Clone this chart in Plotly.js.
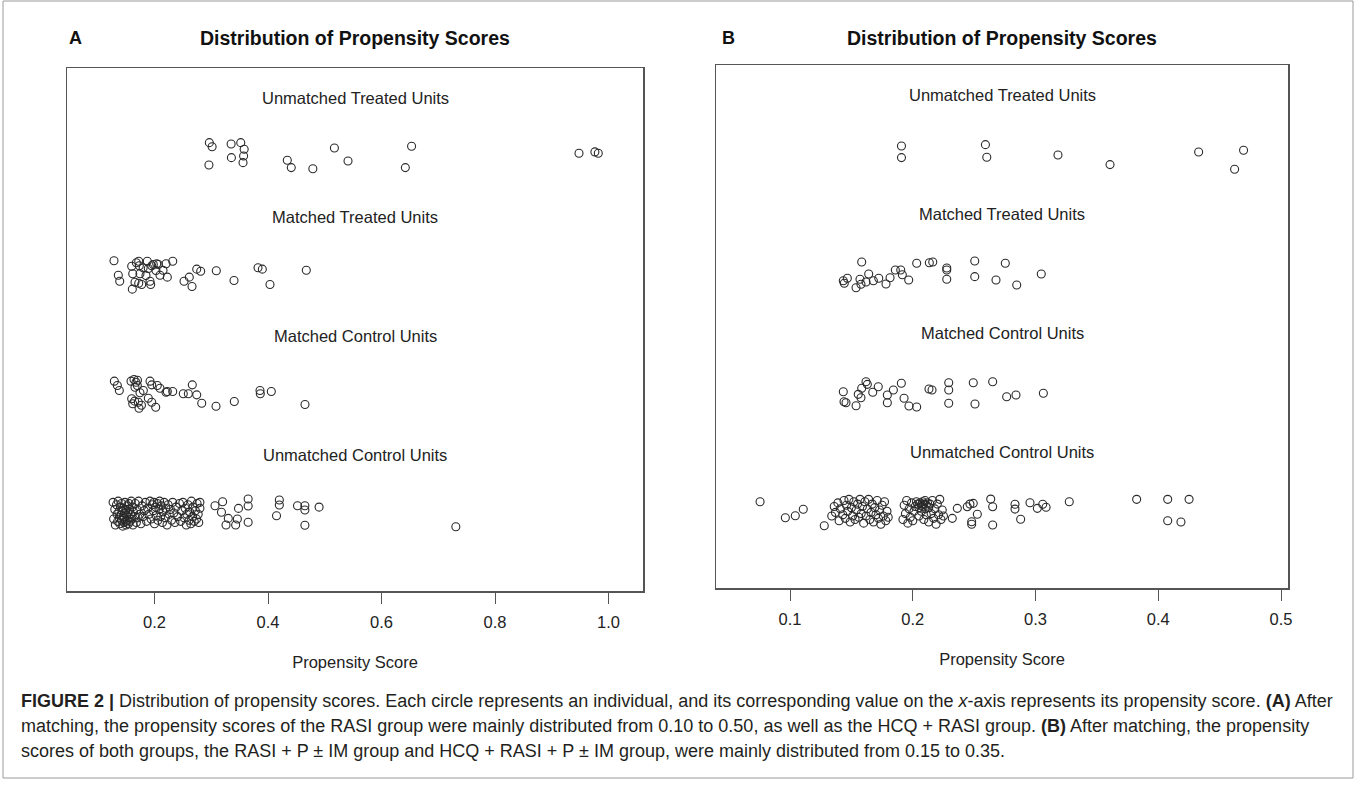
<!DOCTYPE html>
<html>
<head>
<meta charset="utf-8">
<script src="https://cdn.plot.ly/plotly-3.0.1.min.js"></script>
<style>
html,body{margin:0;padding:0;background:#fff;}
#chart{width:1357px;height:787px;}
</style>
</head>
<body>
<div id="chart"></div>
<script>
// ---------- Shared labels ----------
const groupNames = ["Unmatched Treated Units", "Matched Treated Units", "Matched Control Units", "Unmatched Control Units"];
const groupPos = [4, 3, 2, 1];

const tickValsA = [0.2, 0.4, 0.6, 0.8, 1.0];
const tickTextA = ["0.2", "0.4", "0.6", "0.8", "1.0"];
const tickValsB = [0.1, 0.2, 0.3, 0.4, 0.5];
const tickTextB = ["0.1", "0.2", "0.3", "0.4", "0.5"];

// ---------- Panel A data (propensity score, jittered group position) ----------
const aUnmatchedTreatedX = [0.2966,0.3015,0.2959,0.335,0.3355,0.352,0.358,0.357,0.356,0.434,0.441,0.479,0.517,0.541,0.653,0.642,0.948,0.976,0.982];
const aUnmatchedTreatedY = [4.112,4.078,3.924,4.101,3.986,4.112,4.056,4.000,3.944,3.964,3.902,3.893,4.067,3.958,4.082,3.902,4.023,4.034,4.023];

const aMatchedTreatedX = [0.1286,0.1362,0.1387,0.1598,0.1616,0.1609,0.1656,0.1722,0.1732,0.1744,0.1722,0.1774,0.1873,0.1891,0.1921,0.1933,0.1951,0.1979,0.2039,0.2067,0.2026,0.2097,0.2203,0.2226,0.2321,0.2520,0.2613,0.2661,0.2744,0.2814,0.3089,0.3401,0.3824,0.3900,0.4035,0.4675,0.180,0.185,0.168,0.215];
const aMatchedTreatedY = [3.119,2.998,2.948,3.074,3.010,2.881,2.939,3.116,3.077,3.010,2.931,2.920,3.116,3.055,2.948,2.920,3.077,3.088,3.094,3.088,3.038,2.998,3.094,2.982,3.116,2.948,2.982,2.903,3.049,3.032,3.035,2.954,3.061,3.049,2.920,3.040,3.060,2.995,3.103,3.040];

const aMatchedControlX = [0.1292,0.1345,0.1380,0.1586,0.1639,0.1674,0.1656,0.1697,0.1803,0.1744,0.1598,0.1616,0.1715,0.1727,0.1891,0.1951,0.2021,0.1921,0.1951,0.2049,0.2097,0.2203,0.2226,0.2321,0.2507,0.2596,0.2666,0.2744,0.2832,0.3084,0.3406,0.3859,0.3864,0.4058,0.4652,0.170,0.177,0.165];
const aMatchedControlY = [2.108,2.071,2.029,2.108,2.122,2.099,2.057,2.071,2.029,2.010,1.960,1.918,1.931,1.881,1.965,1.931,1.889,2.108,2.077,2.071,2.049,2.015,2.021,2.021,2.002,2.002,2.077,1.993,1.923,1.897,1.937,2.029,2.002,2.021,1.912,2.115,1.905,1.940];

const aUnmatchedControlX = [
0.127,0.128,0.130,0.131,0.133,0.134,0.135,0.136,0.137,0.138,0.139,0.140,0.141,0.142,0.142,0.143,0.144,0.145,0.145,0.146,0.147,0.147,0.148,0.149,0.150,0.150,0.151,0.152,0.152,0.153,0.154,0.155,0.155,0.156,0.157,0.158,0.159,0.160,0.161,0.162,0.163,0.165,0.166,0.168,0.169,0.171,0.172,0.174,0.176,0.178,
0.180,0.182,0.184,0.186,0.188,0.190,0.192,0.194,0.196,0.198,0.199,0.200,0.202,0.203,0.205,0.206,0.208,0.209,0.211,0.212,0.214,0.215,0.217,0.219,0.220,0.222,0.224,0.226,0.228,0.230,0.232,0.234,0.236,0.238,0.241,0.244,
0.246,0.248,0.250,0.252,0.254,0.256,0.257,0.259,0.261,0.262,0.264,0.265,0.267,0.268,0.270,0.272,0.274,0.275,0.277,0.278,0.280,0.280,
0.3066,0.320,0.318,0.326,0.330,0.343,0.346,0.348,0.365,0.365,0.365,0.415,0.420,0.420,0.452,0.465,0.465,0.465,0.490,0.731];
const aUnmatchedControlY = [
1.09,0.95,1.03,0.90,1.07,0.99,0.93,1.10,1.01,0.96,0.91,1.05,0.98,0.94,1.08,1.02,0.89,0.97,1.04,0.92,1.00,0.95,1.09,0.93,1.03,0.90,0.98,1.06,0.94,1.01,0.91,1.08,0.96,1.03,0.93,0.99,1.10,0.95,1.05,0.90,1.01,0.97,1.08,0.92,1.03,0.96,1.10,0.99,0.91,1.06,
0.97,1.02,1.09,0.93,1.04,0.99,1.10,0.95,1.07,1.02,1.09,0.91,1.05,0.98,1.08,0.94,1.03,1.10,0.97,1.06,0.92,1.01,1.09,0.96,1.04,0.90,1.07,0.99,1.03,0.94,1.09,1.00,0.92,1.05,0.97,1.08,
0.93,1.02,1.09,0.96,1.04,0.90,0.99,1.07,0.94,1.01,0.91,1.10,0.97,1.05,0.93,1.02,0.95,1.08,0.99,0.92,1.04,1.09,
1.061,1.095,1.006,0.899,0.955,0.899,0.950,1.039,1.118,1.059,0.922,0.977,1.109,1.067,1.061,1.061,1.025,0.897,1.050,0.885];

// ---------- Panel B data ----------
const bUnmatchedTreatedX = [0.1908,0.1908,0.2592,0.2603,0.3183,0.3607,0.4329,0.4695,0.4622];
const bUnmatchedTreatedY = [4.059,3.961,4.070,3.964,3.983,3.902,4.008,4.023,3.863];

const bMatchedTreatedX = [0.1584,0.1434,0.1442,0.1467,0.1538,0.1570,0.1578,0.1619,0.1641,0.1679,0.1723,0.1782,0.1815,0.1858,0.1902,0.1915,0.1967,0.2032,0.2135,0.2163,0.2277,0.2277,0.2277,0.2505,0.2505,0.2678,0.2754,0.2847,0.3047];
const bMatchedTreatedY = [3.084,2.927,2.905,2.947,2.868,2.939,2.897,2.916,2.983,2.927,2.947,2.899,2.952,3.017,3.017,2.977,2.933,3.073,3.078,3.084,3.034,3.017,2.939,3.092,2.961,2.933,3.073,2.891,2.983];

const bMatchedControlX = [0.1434,0.1440,0.1456,0.1538,0.1556,0.1578,0.1584,0.1619,0.1630,0.1674,0.1719,0.1793,0.1793,0.1842,0.1907,0.1929,0.1969,0.2032,0.2132,0.2157,0.2293,0.2293,0.2293,0.2493,0.2507,0.2651,0.2765,0.2841,0.3064];
const bMatchedControlY = [1.994,1.910,1.902,1.876,1.972,1.944,2.023,2.078,2.056,1.989,2.036,1.966,1.902,2.008,2.065,1.939,1.874,1.866,2.017,2.008,2.070,2.008,1.897,2.070,1.891,2.078,1.952,1.966,1.981];

const bUnmatchedControlX = [
0.0756,0.0962,0.1043,0.1108,0.1279,
0.134,0.136,0.137,0.139,0.140,0.141,0.143,0.144,0.145,0.146,0.147,0.148,0.149,0.150,0.151,0.152,0.153,0.154,0.155,0.156,0.157,0.158,0.159,0.160,0.161,0.162,0.163,0.164,0.165,0.166,0.167,0.168,0.169,0.170,0.171,0.172,0.173,0.174,0.175,0.176,0.177,0.178,0.179,0.180,
0.192,0.193,0.194,0.195,0.196,0.197,0.198,0.199,0.200,0.201,0.202,0.203,0.204,0.205,0.205,0.206,0.207,0.207,0.208,0.208,0.209,0.209,0.210,0.210,0.211,0.211,0.212,0.213,0.213,0.214,0.215,0.216,0.217,0.218,0.219,0.220,0.221,0.222,0.223,0.224,0.225,
0.2322,0.2363,0.2444,0.2466,0.2493,0.2526,0.2480,0.2480,0.2635,0.2651,0.2651,0.2833,0.2833,0.2879,0.2955,0.3015,0.3059,0.3086,0.3275,0.3824,0.4077,0.4077,0.4185,0.4251];
const bUnmatchedControlY = [
1.070,0.935,0.952,1.006,0.868,
0.95,1.03,0.98,1.06,0.91,1.01,0.96,1.08,0.93,1.04,0.99,1.09,0.90,1.02,0.95,1.07,0.92,1.00,1.05,0.94,1.09,0.97,1.03,0.89,1.07,0.95,1.01,1.09,0.92,0.98,1.05,0.90,1.02,0.96,1.08,0.93,1.00,0.88,1.04,0.95,1.07,0.91,0.99,0.94,
0.92,1.04,0.97,1.08,0.89,1.01,0.94,1.06,0.91,0.99,1.03,1.07,1.05,1.02,0.95,1.06,1.04,0.99,1.07,1.03,1.05,0.92,1.08,1.01,1.04,0.96,1.06,1.02,0.90,1.05,0.97,1.08,0.93,1.01,0.88,1.05,0.96,1.09,0.92,1.00,0.95,
0.930,1.014,1.028,1.050,1.056,0.964,0.902,0.880,1.092,1.028,0.874,1.048,1.008,0.922,1.061,1.014,1.048,1.023,1.070,1.090,1.090,0.910,0.899,1.090];

// ---------- Build ----------
const W = 1357, H = 787;
const px = v => v / W, py = v => 1 - v / H;

const markerStyle = {symbol: "circle-open", size: 8, color: "#2a2a2a", line: {width: 1.1}};
function sc(x, y, xa, ya) {
  return {type: "scatter", mode: "markers", x: x, y: y, xaxis: xa, yaxis: ya,
          marker: markerStyle, hoverinfo: "x", showlegend: false};
}
const data = [
  sc(aUnmatchedTreatedX, aUnmatchedTreatedY, "x", "y"),
  sc(aMatchedTreatedX, aMatchedTreatedY, "x", "y"),
  sc(aMatchedControlX, aMatchedControlY, "x", "y"),
  sc(aUnmatchedControlX, aUnmatchedControlY, "x", "y"),
  sc(bUnmatchedTreatedX, bUnmatchedTreatedY, "x2", "y2"),
  sc(bMatchedTreatedX, bMatchedTreatedY, "x2", "y2"),
  sc(bMatchedControlX, bMatchedControlY, "x2", "y2"),
  sc(bUnmatchedControlX, bUnmatchedControlY, "x2", "y2")
];

const FONT = "Liberation Sans, Arial, Helvetica, sans-serif";
const TXT = 16.5;
const lineCol = "#555";
function xax(domain, range, tv, tt, anchor) {
  return {domain: domain, range: range, tickvals: tv, ticktext: tt, showgrid: false, zeroline: false,
          showline: true, mirror: true, linecolor: lineCol, linewidth: 1.5, anchor: anchor,
          ticks: "outside", ticklen: 11, tickwidth: 1, tickcolor: "#555", ticklabelstandoff: 5,
          tickfont: {family: FONT, size: TXT, color: "#222"},
          title: {text: "Propensity Score", font: {family: FONT, size: TXT, color: "#222"}, standoff: 26},
          fixedrange: true};
}
function yax(domain, anchor) {
  return {domain: domain, range: [0.345, 4.739], showgrid: false, zeroline: false, showticklabels: false,
          ticks: "", showline: true, mirror: true, linecolor: lineCol, linewidth: 1.5, anchor: anchor, fixedrange: true};
}

const annotations = [];
groupNames.forEach((g, i) => {
  ["x", "x2"].forEach((xa, k) => {
    annotations.push({xref: xa + " domain", yref: k ? "y2" : "y", x: 0.5, y: groupPos[i] + 0.49, text: g, showarrow: false,
                      xanchor: "center", yanchor: "middle", font: {family: FONT, size: TXT, color: "#222"}});
  });
});
// panel letters and titles
annotations.push({xref: "paper", yref: "paper", x: px(75), y: py(38), text: "<b>A</b>", showarrow: false,
                  xanchor: "center", yanchor: "middle", font: {family: FONT, size: 18, color: "#111"}});
annotations.push({xref: "paper", yref: "paper", x: px(728), y: py(38), text: "<b>B</b>", showarrow: false,
                  xanchor: "center", yanchor: "middle", font: {family: FONT, size: 18, color: "#111"}});
annotations.push({xref: "paper", yref: "paper", x: px(355), y: py(38), text: "<b>Distribution of Propensity Scores</b>", showarrow: false,
                  xanchor: "center", yanchor: "middle", font: {family: FONT, size: 19.5, color: "#111"}});
annotations.push({xref: "paper", yref: "paper", x: px(1002), y: py(38), text: "<b>Distribution of Propensity Scores</b>", showarrow: false,
                  xanchor: "center", yanchor: "middle", font: {family: FONT, size: 19.5, color: "#111"}});

// caption
const captionLines = [
  "<b>FIGURE 2 |</b> Distribution of propensity scores. Each circle represents an individual, and its corresponding value on the <i>x</i>-axis represents its propensity score. <b>(A)</b> After",
  "matching, the propensity scores of the RASI group were mainly distributed from 0.10 to 0.50, as well as the HCQ + RASI group. <b>(B)</b> After matching, the propensity",
  "scores of both groups, the RASI + P ± IM group and HCQ + RASI + P ± IM group, were mainly distributed from 0.15 to 0.35."
];
const capY = [700.5, 725.5, 750.5];
captionLines.forEach((t, i) => {
  annotations.push({xref: "paper", yref: "paper", x: px(19), y: py(capY[i]), text: t, showarrow: false,
                    xanchor: "left", yanchor: "middle", align: "left", font: {family: FONT, size: 18, color: "#231f20"}});
});

const shapes = [
  {type: "rect", xref: "paper", yref: "paper", x0: px(3), x1: px(1353), y0: py(778), y1: py(1),
   line: {color: "#9a9a9a", width: 1}, fillcolor: "rgba(0,0,0,0)"}
];

const layout = {
  width: W, height: H, margin: {l: 0, r: 0, t: 0, b: 0},
  paper_bgcolor: "#fff", plot_bgcolor: "#fff", showlegend: false,
  xaxis: xax([px(67), px(643)], [0.0458, 1.0608], tickValsA, tickTextA, "y"),
  yaxis: yax([py(591), py(68)], "x"),
  xaxis2: xax([px(716), px(1288)], [0.0397, 0.5057], tickValsB, tickTextB, "y2"),
  yaxis2: yax([py(588), py(65)], "x2"),
  annotations: annotations, shapes: shapes
};

Plotly.newPlot("chart", data, layout, {displayModeBar: false, staticPlot: true});
</script>
</body>
</html>
